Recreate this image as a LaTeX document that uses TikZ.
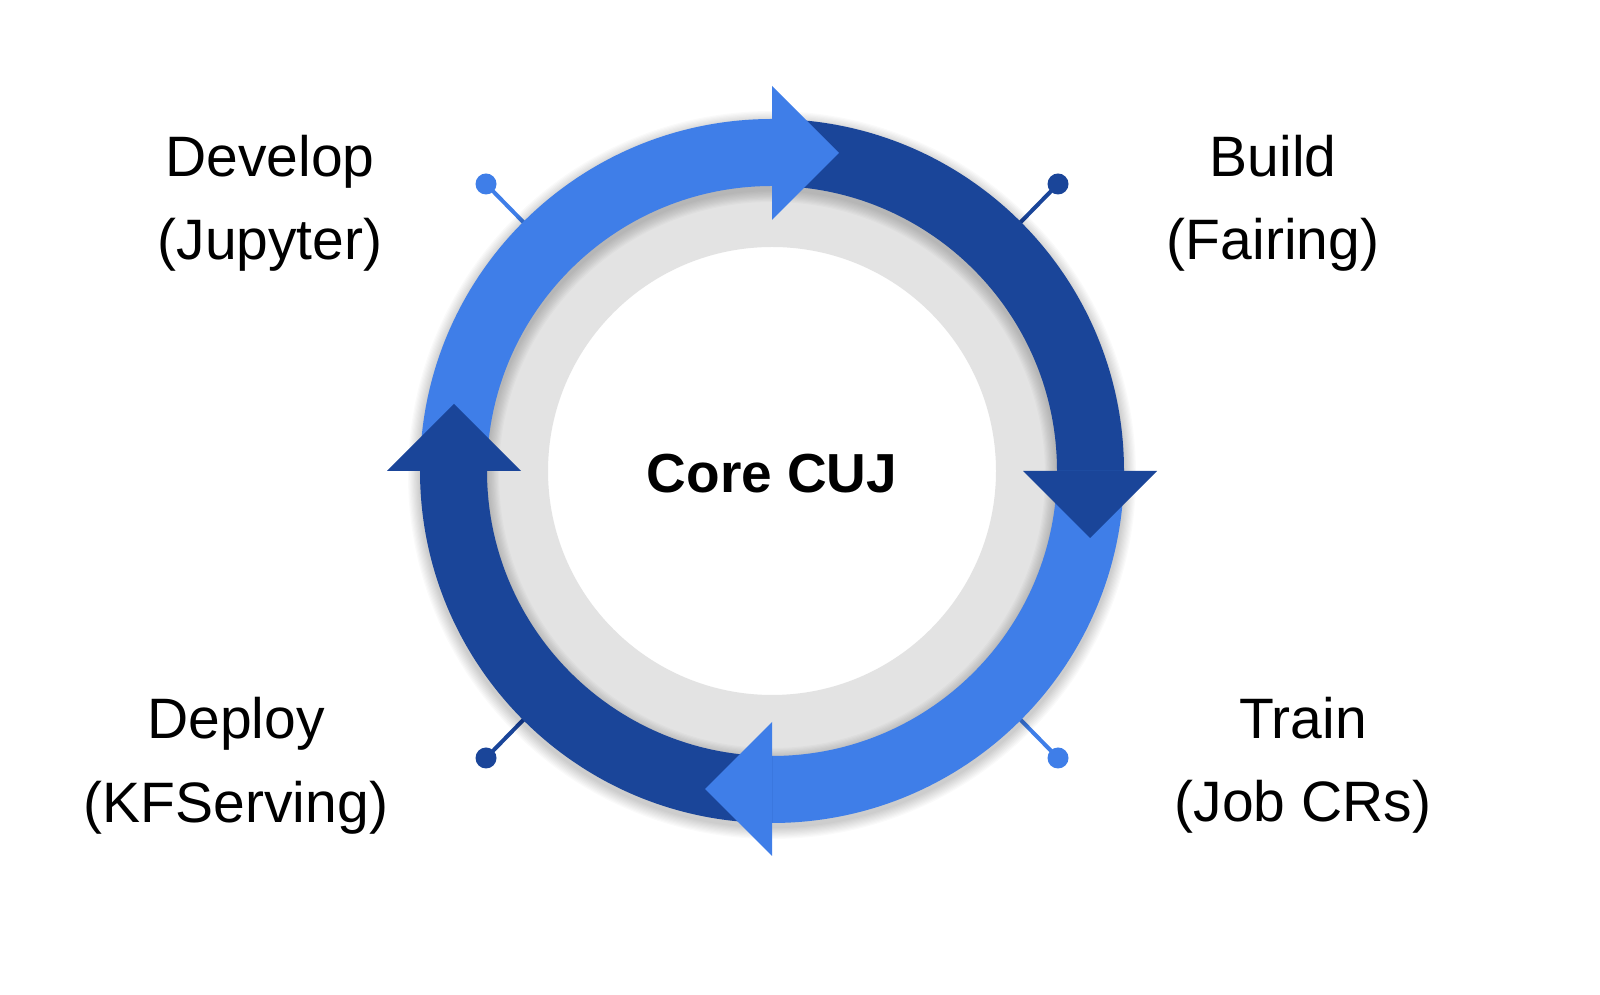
\documentclass[tikz,border=0pt]{standalone}
\usepackage{fontspec}
\setmainfont{Liberation Sans}
\usetikzlibrary{calc}
\definecolor{lightblue}{HTML}{3F7EE8}
\definecolor{darkblue}{HTML}{1A4599}
\definecolor{ringgray}{HTML}{E3E3E3}
\begin{document}
\begin{tikzpicture}[x=1pt,y=1pt,
  labeltext/.style={font=\fontsize{57}{60}\selectfont, anchor=base, inner sep=0pt},
  coretext/.style={font=\fontsize{55}{60}\selectfont\bfseries, anchor=base, inner sep=0pt},
  pindot/.style={circle, inner sep=0pt, minimum size=21pt},
  pinline/.style={line width=4pt}]
\useasboundingbox (0,0) rectangle (1600,995);
\fill[white] (0,0) rectangle (1600,995);
\coordinate (C) at (772,524);
% pins
\node[pindot, fill=lightblue] (p1) at (486,811) {};
\node[pindot, fill=darkblue] (p2) at (1058,811) {};
\node[pindot, fill=lightblue] (p3) at (1058,237) {};
\node[pindot, fill=darkblue] (p4) at (486,237) {};
\coordinate (e1) at ($(C)+(135:340)$);
\coordinate (e2) at ($(C)+(45:340)$);
\coordinate (e3) at ($(C)+(-45:340)$);
\coordinate (e4) at ($(C)+(-135:340)$);
\draw[pinline, lightblue] (e1) -- (p1.center);
\draw[pinline, darkblue] (e2) -- (p2.center);
\draw[pinline, lightblue] (e3) -- (p3.center);
\draw[pinline, darkblue] (e4) -- (p4.center);
% gray ring
\fill[ringgray, even odd rule] (C) circle (287) (C) circle (224);
% shadow
\foreach \i in {1,...,10} {
  \draw[black, opacity=0.02, line width={67+2.4*\i}] ($(C)+(0,-4)$) circle (318.5);
}
% segment bodies
\fill[lightblue] ($(C)+(180:352)$) arc[start angle=180, end angle=90, radius=352]
  -- ($(C)+(90:285)$) arc[start angle=90, end angle=180, radius=285] -- cycle;
\fill[darkblue] ($(C)+(90:352)$) arc[start angle=90, end angle=0, radius=352]
  -- ($(C)+(0:285)$) arc[start angle=0, end angle=90, radius=285] -- cycle;
\fill[lightblue] ($(C)+(0:352)$) arc[start angle=0, end angle=-90, radius=352]
  -- ($(C)+(-90:285)$) arc[start angle=-90, end angle=0, radius=285] -- cycle;
\fill[darkblue] ($(C)+(-90:352)$) arc[start angle=-90, end angle=-180, radius=352]
  -- ($(C)+(-180:285)$) arc[start angle=-180, end angle=-90, radius=285] -- cycle;
% heads
\fill[lightblue] ($(C)+(0,251)$) -- ($(C)+(0,385)$) -- ($(C)+(67,318)$) -- cycle;
\fill[darkblue] ($(C)+(251,0)$) -- ($(C)+(385,0)$) -- ($(C)+(318,-67)$) -- cycle;
\fill[lightblue] ($(C)+(0,-251)$) -- ($(C)+(0,-385)$) -- ($(C)+(-67,-318)$) -- cycle;
\fill[darkblue] ($(C)+(-251,0)$) -- ($(C)+(-385,0)$) -- ($(C)+(-318,67)$) -- cycle;
% labels
\node[coretext] (core) at (772,502) {Core CUJ};
\node[labeltext] (dev1) at (270,818) {Develop};
\node[labeltext] (dev2) at (270,735) {(Jupyter)};
\node[labeltext] (bld1) at (1273,818) {Build};
\node[labeltext] (bld2) at (1273,735) {(Fairing)};
\node[labeltext] (dep1) at (236,256) {Deploy};
\node[labeltext] (dep2) at (236,172) {(KFServing)};
\node[labeltext] (trn1) at (1303,256) {Train};
\node[labeltext] (trn2) at (1303,173) {(Job CRs)};
\end{tikzpicture}
\end{document}
